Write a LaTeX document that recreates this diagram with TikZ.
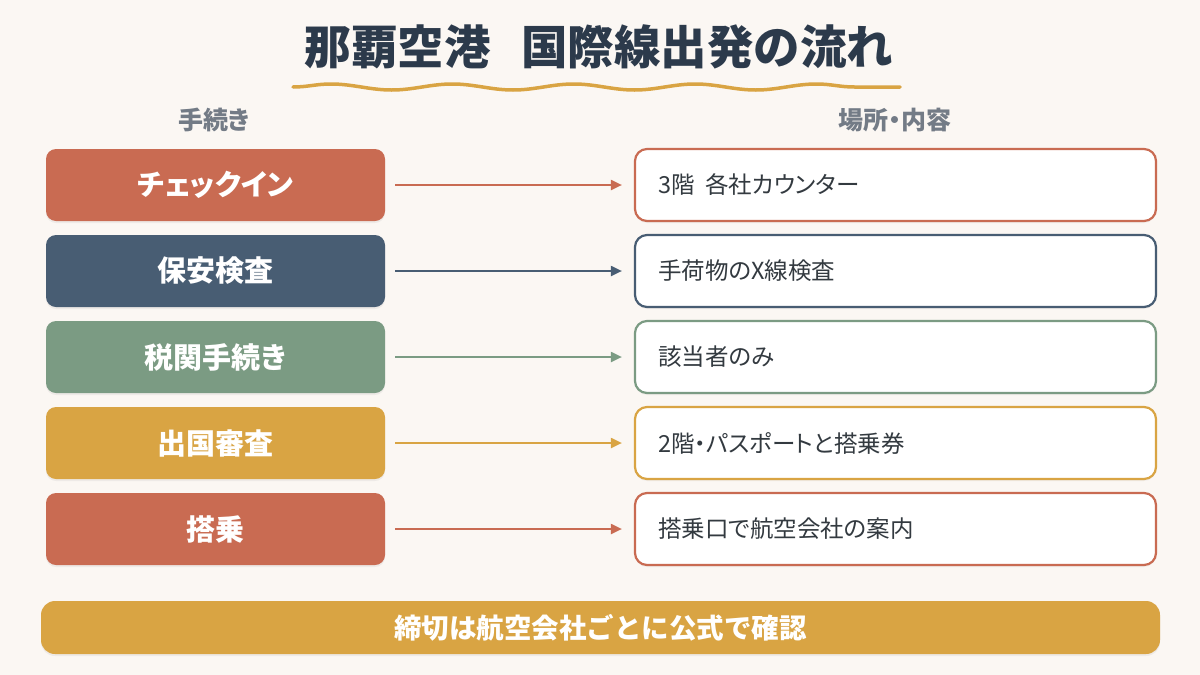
\documentclass[tikz,border=0pt]{standalone}
\usepackage{fontspec}
\setmainfont{Noto Sans CJK JP}
\newfontfamily\paltfont{Noto Sans CJK JP}[RawFeature=+palt]
\usetikzlibrary{arrows.meta,decorations.pathmorphing,shadows}
\definecolor{bg}{HTML}{FBF7F3}
\definecolor{cred}{HTML}{C96B52}
\definecolor{cnavy}{HTML}{485D73}
\definecolor{csage}{HTML}{7B9B83}
\definecolor{cgold}{HTML}{D9A443}
\definecolor{ctitle}{HTML}{2C3A4B}
\definecolor{cgray}{HTML}{737B86}
\definecolor{ctext}{HTML}{333A40}
\tikzset{
  stepbox/.style={rounded corners=10pt, fill=#1, minimum width=339pt, minimum height=72pt,
    text=white, font=\paltfont\fontsize{29}{34}\selectfont\bfseries, inner sep=0pt,
    drop shadow={opacity=0.10, shadow xshift=0pt, shadow yshift=-2pt}},
  infobox/.style={rounded corners=12pt, draw=#1, line width=2.2pt, fill=white,
    minimum width=521pt, minimum height=72pt, text width=475pt, align=left,
    inner xsep=23pt, inner ysep=0pt, text=ctext, font=\paltfont\fontsize{23.5}{28}\selectfont,
    drop shadow={opacity=0.08, shadow xshift=0pt, shadow yshift=-2pt}},
  flow/.style={draw=#1, line width=2pt, -{Triangle[length=11pt,width=10pt]},
    shorten <=10pt, shorten >=12pt},
  header/.style={text=cgray, font=\paltfont\fontsize{25}{30}\selectfont\bfseries}
}
\begin{document}
\begin{tikzpicture}[x=1pt,y=-1pt]
\fill[bg] (0,0) rectangle (1200,675);
\useasboundingbox (0,0) rectangle (1200,675);

\node[text=ctitle, font=\fontsize{46.5}{52}\selectfont\bfseries] (title) at (599,47) {那覇空港\hspace{0.65em}国際線出発の流れ};
\coordinate (w1) at (293,87);
\coordinate (w2) at (900,87);
\draw[cgold, line width=3.5pt, line cap=round, decorate,
  decoration={snake, segment length=121.4pt, amplitude=3pt}] (w1) -- (w2);

\node[header] (h1) at (214,120) {手続き};
\node[header] (h2) at (895,120) {場所・内容};

\node[stepbox=cred]  (l1) at (215.5,185) {チェックイン};
\node[stepbox=cnavy] (l2) at (215.5,271) {保安検査};
\node[stepbox=csage] (l3) at (215.5,357) {税関手続き};
\node[stepbox=cgold] (l4) at (215.5,443) {出国審査};
\node[stepbox=cred]  (l5) at (215.5,529) {搭乗};

\node[infobox=cred]  (r1) at (895.5,185) {3階\hspace{0.45em}各社カウンター};
\node[infobox=cnavy] (r2) at (895.5,271) {手荷物のX線検査};
\node[infobox=csage] (r3) at (895.5,357) {該当者のみ};
\node[infobox=cgold] (r4) at (895.5,443) {2階・パスポートと搭乗券};
\node[infobox=cred]  (r5) at (895.5,529) {搭乗口で航空会社の案内};

\draw[flow=cred]  (l1) -- (r1);
\draw[flow=cnavy] (l2) -- (r2);
\draw[flow=csage] (l3) -- (r3);
\draw[flow=cgold] (l4) -- (r4);
\draw[flow=cred]  (l5) -- (r5);

\node[rounded corners=14pt, fill=cgold, minimum width=1119pt, minimum height=53pt,
  text=white, font=\fontsize{27.5}{32}\selectfont\bfseries, inner sep=0pt,
  drop shadow={opacity=0.10, shadow xshift=0pt, shadow yshift=-2pt}] (note) at (600.5,627.5) {締切は航空会社ごとに公式で確認};
\end{tikzpicture}
\end{document}
